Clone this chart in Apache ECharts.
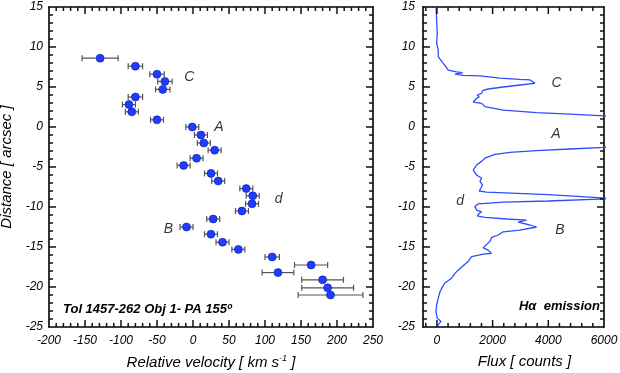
<!DOCTYPE html>
<html>
<head>
<meta charset="utf-8">
<script src="https://cdn.jsdelivr.net/npm/echarts@6/dist/echarts.min.js"></script>
<style>
  html, body { margin: 0; padding: 0; background: #fff; }
  #chart { width: 620px; height: 373px; }
</style>
</head>
<body>
<div id="chart"></div>
<script>
// knots: relative velocity vs distance (left panel)
const velocity = [-129, -80, -50, -39, -42, -80, -89, -85, -50, -1, 11, 15, 30, 5, -13, 25, 35, 74, 83, 82, 68, 28, -9, 25, 41, 63, 110, 164, 118, 180, 187, 191]
const distance = [8.6, 7.6, 6.6, 5.7, 4.7, 3.75, 2.8, 1.9, 0.9, 0, -1.0, -2.0, -2.9, -3.9, -4.8, -5.8, -6.75, -7.7, -8.6, -9.6, -10.5, -11.5, -12.5, -13.4, -14.4, -15.3, -16.25, -17.25, -18.2, -19.1, -20.1, -21.0]
const velErr = [25, 10, 10, 10, 10, 10, 9, 9, 9, 9, 9, 9, 9, 9, 9, 9, 9, 9, 9, 9, 9, 9, 9, 9, 9, 9, 10, 23, 22, 29, 36, 45]

// H-alpha flux profile (right panel)
const fluxDist = [15, 14.8, 13.4, 11.7, 10.5, 9.6, 8.8, 8.2, 7.7, 7.1, 6.9, 6.8, 6.6, 6.45, 6.4, 6.1, 5.95, 5.9, 5.45, 5.25, 5.0, 4.75, 4.55, 4.2, 4.0, 3.8, 3.5, 3.1, 2.95, 2.55, 2.1, 1.8, 1.6, 1.4, 1.0, 0, -1, -2, -2.4, -2.55, -2.75, -2.95, -3.17, -3.42, -3.9, -4.3, -4.75, -5.4, -6.0, -6.4, -6.8, -7.25, -8.0, -8.15, -8.45, -8.95, -9.25, -9.4, -9.6, -9.95, -10.4, -10.6, -10.8, -11.1, -11.3, -11.5, -11.65, -11.9, -12.25, -12.5, -12.9, -13.1, -13.5, -13.8, -14.3, -15.1, -15.4, -15.8, -15.9, -16.2, -16.8, -17.5, -18.3, -18.9, -19.5, -19.95, -20.6, -21.4, -22.25, -23.1, -23.9, -24.3, -24.5, -24.95]
const fluxCounts = [-30, -36, -10, 12, -10, 48, 48, 168, 287, 407, 707, 922, 646, 946, 1544, 2262, 2980, 3339, 3519, 2980, 2381, 1842, 1640, 1605, 1447, 1519, 1400, 1303, 1605, 1723, 2381, 3580, 4776, 6007, 8000, 12000, 12000, 8000, 6500, 6007, 4776, 3580, 2621, 2083, 1723, 1605, 1425, 1303, 1425, 1605, 1544, 1640, 1519, 1784, 4000, 6300, 4000, 2381, 1483, 1364, 1425, 1605, 1520, 1447, 1723, 2502, 3220, 2920, 3339, 3580, 2980, 2381, 2201, 1963, 1903, 1664, 1842, 1963, 1664, 1246, 1125, 887, 646, 528, 287, 205, 108, 48, -10, -36, 12, 150, 108, -10]

// panel labels
const leftTags = ['C', 'A', 'd', 'B']
const leftTagVel = [-5, 36, 119, -34]
const leftTagDist = [6.25, 0, -9, -12.75]
const rightTagFlux = [4300, 4270, 830, 4420]
const rightTagDist = [5.5, -0.9, -9.25, -12.9]

const fluxLabels = [0, 2000, 4000, 6000]

const FONT = 'Liberation Sans'
const labelStyle = { fontFamily: FONT, fontStyle: 'italic', fontSize: 12, color: '#000' }
const nameStyle = { fontFamily: FONT, fontStyle: 'italic', fontSize: 15, color: '#000' }

// tick list for the frame: [axis (0 = x, 1 = y), value, length]
function ticks(dim, from, to, step, major) {
  let out = []
  for (let i = 0; from + i * step <= to + 1e-9; i++) {
    let v = from + i * step
    let isMajor = Math.abs(v / major - Math.round(v / major)) < 1e-6
    out.push([dim, v, isMajor ? 7 : 4])
  }
  return out
}

// inside ticks drawn on both sides of the frame (axisTick inside is not shown at the grid edge)
function renderTicks(params, api) {
  let cs = params.coordSys
  let dim = api.value(0)
  let v = api.value(1)
  let len = api.value(2)
  let style = { stroke: '#111', lineWidth: 1.5 }
  if (dim === 0) {
    let x = api.coord([v, 0])[0]
    let b = cs.y + cs.height
    return {
      type: 'group',
      children: [
        { type: 'line', shape: { x1: x, y1: b, x2: x, y2: b - len }, style },
        { type: 'line', shape: { x1: x, y1: cs.y, x2: x, y2: cs.y + len }, style },
      ],
    }
  }
  let y = api.coord([0, v])[1]
  let r = cs.x + cs.width
  return {
    type: 'group',
    children: [
      { type: 'line', shape: { x1: cs.x, y1: y, x2: cs.x + len, y2: y }, style },
      { type: 'line', shape: { x1: r, y1: y, x2: r - len, y2: y }, style },
    ],
  }
}

function frame(extra) {
  return Object.assign({
    type: 'value',
    axisLine: { show: true, onZero: false, lineStyle: { color: '#000', width: 1.6 } },
    axisTick: { show: false },
    minorTick: { show: false },
    axisLabel: { show: false },
    splitLine: { show: false },
    minorSplitLine: { show: false },
  }, extra)
}

let chart = echarts.init(document.getElementById('chart'))

let option = {
  animation: false,
  grid: [
    { left: 49, right: 247, top: 7, bottom: 46, outerBoundsMode: 'none' },
    { left: 423, right: 16, top: 7, bottom: 46, outerBoundsMode: 'none' },
  ],
  xAxis: [
    frame({
      gridIndex: 0, position: 'bottom', min: -200, max: 250, interval: 50,
      axisLabel: { show: true, margin: 8, ...labelStyle },
      name: 'Relative velocity [ km s{sup|-1} ]',
      nameLocation: 'middle', nameGap: 27,
      nameTextStyle: { ...nameStyle, rich: { sup: { fontFamily: FONT, fontStyle: 'italic', fontSize: 9, padding: [0, 0, 8, 0] } } },
    }),
    frame({ gridIndex: 0, position: 'top', min: -200, max: 250, interval: 50 }),
    frame({
      gridIndex: 1, position: 'bottom', min: -500, max: 6000,
      axisLabel: { show: true, margin: 8, customValues: fluxLabels, formatter: (v) => String(v), ...labelStyle },
      name: 'Flux [ counts ]',
      nameLocation: 'middle', nameGap: 27,
      nameTextStyle: { ...nameStyle, padding: [0, 0, 0, 22] },
    }),
    frame({ gridIndex: 1, position: 'top', min: -500, max: 6000 }),
  ],
  yAxis: [
    frame({
      gridIndex: 0, position: 'left', min: -25, max: 15, interval: 5,
      axisLabel: { show: true, margin: 6, ...labelStyle },
      name: 'Distance [ arcsec ]',
      nameLocation: 'middle', nameGap: 29, nameTextStyle: nameStyle,
    }),
    frame({ gridIndex: 0, position: 'right', min: -25, max: 15, interval: 5 }),
    frame({
      gridIndex: 1, position: 'left', min: -25, max: 15, interval: 5,
      axisLabel: { show: true, margin: 8, ...labelStyle },
    }),
    frame({ gridIndex: 1, position: 'right', min: -25, max: 15, interval: 5 }),
  ],
  series: [
    {
      // error bars in velocity
      type: 'custom',
      xAxisIndex: 0, yAxisIndex: 0,
      data: velocity.map((v, i) => [v, distance[i], velErr[i]]),
      renderItem: function (params, api) {
        let d = api.value(1)
        let e = api.value(2)
        let lo = api.coord([api.value(0) - e, d])
        let hi = api.coord([api.value(0) + e, d])
        let style = { stroke: '#555', lineWidth: 1.2 }
        return {
          type: 'group',
          children: [
            { type: 'line', shape: { x1: lo[0], y1: lo[1], x2: hi[0], y2: hi[1] }, style },
            { type: 'line', shape: { x1: lo[0], y1: lo[1] - 3, x2: lo[0], y2: lo[1] + 3 }, style },
            { type: 'line', shape: { x1: hi[0], y1: hi[1] - 3, x2: hi[0], y2: hi[1] + 3 }, style },
          ],
        }
      },
      z: 2,
    },
    {
      type: 'scatter',
      xAxisIndex: 0, yAxisIndex: 0,
      symbolSize: 8,
      itemStyle: { color: '#1f3cff', borderColor: '#0b1d9c', borderWidth: 0.6, opacity: 1 },
      data: velocity.map((v, i) => [v, distance[i]]),
      z: 3,
    },
    {
      type: 'scatter',
      xAxisIndex: 0, yAxisIndex: 0,
      symbolSize: 1,
      itemStyle: { color: 'transparent' },
      label: { show: true, position: 'inside', formatter: '{b}', fontFamily: FONT, fontStyle: 'italic', fontSize: 14, color: '#000' },
      data: leftTags.map((t, i) => ({ name: t, value: [leftTagVel[i], leftTagDist[i]] })),
    },
    {
      type: 'line',
      xAxisIndex: 2, yAxisIndex: 2,
      showSymbol: false,
      symbol: 'none',
      clip: true,
      lineStyle: { color: '#2d4dff', width: 1.3 },
      data: fluxCounts.map((f, i) => [f, fluxDist[i]]),
    },
    {
      type: 'scatter',
      xAxisIndex: 2, yAxisIndex: 2,
      symbolSize: 1,
      itemStyle: { color: 'transparent' },
      label: { show: true, position: 'inside', formatter: '{b}', fontFamily: FONT, fontStyle: 'italic', fontSize: 14, color: '#000' },
      data: leftTags.map((t, i) => ({ name: t, value: [rightTagFlux[i], rightTagDist[i]] })),
    },
    {
      // frame ticks, left panel
      type: 'custom',
      xAxisIndex: 0, yAxisIndex: 0,
      silent: true,
      renderItem: renderTicks,
      data: ticks(0, -190, 240, 10, 50).concat(ticks(1, -24, 14, 1, 5)),
      z: 5,
    },
    {
      // frame ticks, right panel
      type: 'custom',
      xAxisIndex: 2, yAxisIndex: 2,
      silent: true,
      renderItem: renderTicks,
      data: ticks(0, -400, 5600, 400, 2000).concat(ticks(1, -24, 14, 1, 5)),
      z: 5,
    },
  ],
  graphic: [
    {
      type: 'text', left: 63, top: 303,
      style: { text: 'Tol 1457-262 Obj 1- PA 155º', fontFamily: FONT, fontStyle: 'italic', fontWeight: 'bold', fontSize: 13, fill: '#000' },
    },
    {
      type: 'text', right: 20, top: 300,
      style: { text: 'Hα  emission', fontFamily: FONT, fontStyle: 'italic', fontWeight: 'bold', fontSize: 13, fill: '#000' },
    },
  ],
}

chart.setOption(option)
</script>
</body>
</html>
